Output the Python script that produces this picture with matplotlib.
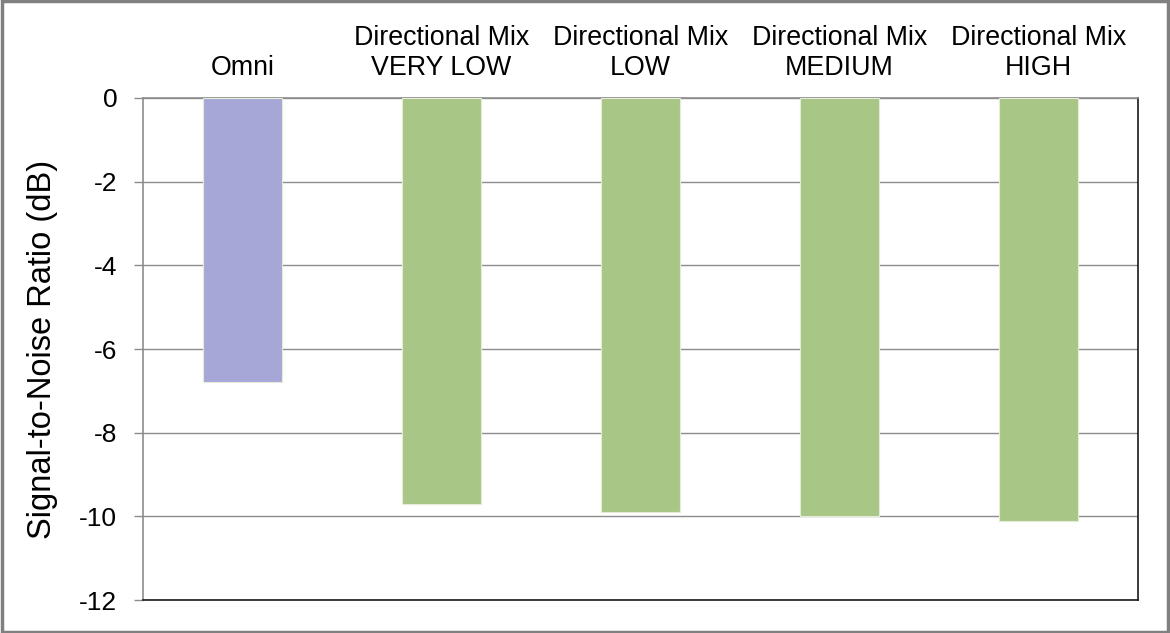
import matplotlib.pyplot as plt
from matplotlib.patches import Rectangle

plt.rcParams["font.family"] = ["Liberation Sans", "DejaVu Sans"]

CATEGORIES = [
    "Omni",
    "Directional Mix\nVERY LOW",
    "Directional Mix\nLOW",
    "Directional Mix\nMEDIUM",
    "Directional Mix\nHIGH",
]
SNR_DB = [-6.8, -9.7, -9.9, -10.0, -10.1]
BAR_COLORS = ["#A6A7D6", "#A8C686", "#A8C686", "#A8C686", "#A8C686"]
Y_TICKS = [0, -2, -4, -6, -8, -10, -12]


def main() -> None:
    fig = plt.figure(figsize=(11.7, 6.33), dpi=100)
    ax = fig.add_axes([0.1222, 0.0521, 0.8504, 0.7931])

    x = list(range(len(CATEGORIES)))
    ax.bar(x, SNR_DB, width=0.4, color=BAR_COLORS, edgecolor="#E4ECD8", linewidth=0.8, zorder=3)

    ax.set_xlim(-0.5, len(CATEGORIES) - 0.5)
    ax.set_ylim(-12, 0)
    ax.set_yticks(Y_TICKS)
    ax.set_yticklabels([str(t) for t in Y_TICKS])
    ax.grid(axis="y", color="#8C8C8C", linewidth=1.0, zorder=0)

    ax.xaxis.tick_top()
    ax.set_xticks(x)
    ax.set_xticklabels(CATEGORIES, fontsize=19.3, linespacing=1.22)
    ax.tick_params(axis="x", length=0, pad=12)
    ax.tick_params(axis="y", length=6.5, width=1.0, color="#8C8C8C", pad=12, labelsize=19)

    ax.spines["left"].set_color("#8C8C8C")
    ax.spines["top"].set_color("#8C8C8C")
    ax.spines["right"].set_color("#1A1A1A")
    ax.spines["bottom"].set_color("#1A1A1A")
    for side in ["left", "top", "right", "bottom"]:
        ax.spines[side].set_linewidth(1.2)

    ax.set_ylabel("Signal-to-Noise Ratio (dB)", fontsize=23.5)
    ax.yaxis.set_label_coords(-0.0855, 0.5)

    # outer chart border
    fig.patches.append(
        Rectangle((0.0015, 0.002), 0.997, 0.996, transform=fig.transFigure,
                  fill=False, edgecolor="#808080", linewidth=2.5)
    )

    fig.savefig("out.png", dpi=100)
    plt.close(fig)


if __name__ == "__main__":
    main()
